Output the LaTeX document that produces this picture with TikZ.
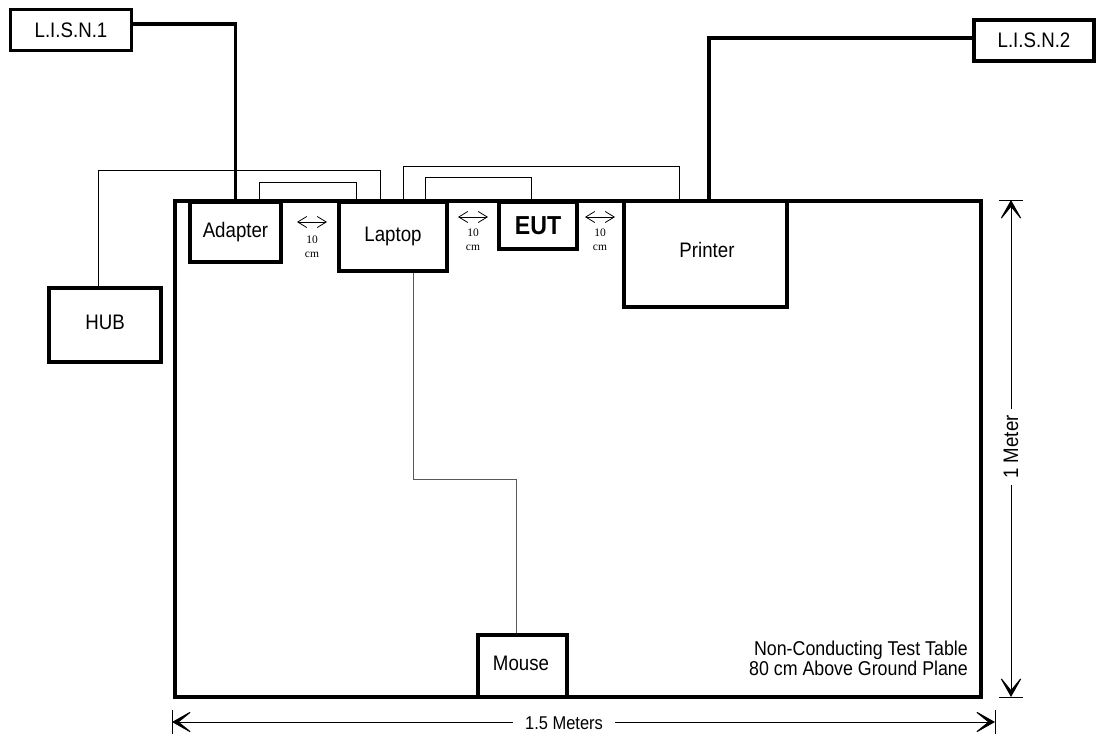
\documentclass[tikz,border=0pt]{standalone}
\usepackage{fontspec}
\setmainfont{Liberation Sans}
\newfontfamily\serifsmall{Liberation Serif}
\usetikzlibrary{arrows.meta}
\newcommand\cond[1]{\scalebox{0.89}[1]{#1}}
\begin{document}
\begin{tikzpicture}[x=1pt,y=-1pt,
  box/.style={draw, line width=3.5pt, inner sep=0pt, font=\fontsize{21}{24}\selectfont},
  label/.style={font=\fontsize{21}{24}\selectfont, inner sep=0pt},
  cable/.style={line width=1pt},
  mousecable/.style={line width=1pt, draw=black!65},
  power/.style={line width=3.5pt},
  gap/.style={line width=0.8pt, {Straight Barb[length=9pt,width=11pt]}-{Straight Barb[length=9pt,width=11pt]}},
  gaptext/.style={font=\serifsmall\fontsize{11.5}{13}\selectfont, inner sep=0pt, anchor=base},
  dimline/.style={line width=1pt, -{Stealth[length=23pt,width=26pt,inset=16pt]}},
  dimlabel/.style={fill=white, inner ysep=2pt},
  tick/.style={line width=1pt},
  note/.style={font=\fontsize{20}{22}\selectfont, inner sep=0pt, anchor=base east},
]
\useasboundingbox (0,0) rectangle (1096,736);

% table
\node[draw, line width=3.5pt, minimum width=806pt, minimum height=496pt, inner sep=0pt] (table) at (578,449) {};

% boxes
\node[box, minimum width=121pt, minimum height=41pt] (lisn1) at (71,30) {\cond{L.I.S.N.1}};
\node[box, minimum width=120pt, minimum height=41pt] (lisn2) at (1034,40.5) {\cond{L.I.S.N.2}};
\node[box, minimum width=91pt, minimum height=60pt] (adapter) at (235.5,232) {\cond{Adapter}};
\node[box, minimum width=108pt, minimum height=69pt] (laptop) at (393,236.5) {\cond{Laptop}};
\node[box, minimum width=78pt, minimum height=47pt, font=\bfseries\fontsize{26}{28}\selectfont] (eut) at (538,225.5) {\cond{EUT}};
\node[box, minimum width=163pt, minimum height=106pt] (printer) at (705.5,254) {};
\node[label] (printertext) at (707,250) {\cond{Printer}};
\node[box, minimum width=112pt, minimum height=74pt] (hub) at (105,325) {};
\node[label] (hubtext) at (105,322) {\cond{HUB}};
\node[box, minimum width=89pt, minimum height=62pt] (mouse) at (522.5,666) {};
\node[label] (mousetext) at (521,663) {\cond{Mouse}};

% power cables
\draw[power] ([yshift=6pt]lisn1.east) -| (adapter.north);
\draw[power] ([xshift=3.5pt]printer.north) |- ([yshift=2.5pt]lisn2.west);

% signal cables
\draw[cable] ([xshift=-7pt]hub.north) -- ++(0,-116) -| ([xshift=-13pt]laptop.north);
\draw[cable] ([xshift=23.5pt]adapter.north) -- ++(0,-18) -| ([xshift=-37pt]laptop.north);
\draw[cable] ([xshift=10pt]laptop.north) -- ++(0,-34) -| ([xshift=-26.5pt]printer.north);
\draw[cable] ([xshift=32pt]laptop.north) -- ++(0,-23) -| ([xshift=-7pt]eut.north);
\draw[mousecable] ([xshift=20pt]laptop.south) -- ++(0,207) -| ([xshift=-6.5pt]mouse.north);

% 10 cm spacing marks
\coordinate (g1a) at (297,222); \coordinate (g1b) at (327,222);
\draw[gap] (g1a) -- (g1b);
\node[gaptext] (g1t) at (312,243) {10};
\node[gaptext] (g1c) at (312,257) {cm};
\coordinate (g2a) at (458,217); \coordinate (g2b) at (488,217);
\draw[gap] (g2a) -- (g2b);
\node[gaptext] (g2t) at (473,236) {10};
\node[gaptext] (g2c) at (473,250) {cm};
\coordinate (g3a) at (585,217); \coordinate (g3b) at (615,217);
\draw[gap] (g3a) -- (g3b);
\node[gaptext] (g3t) at (600,236) {10};
\node[gaptext] (g3c) at (600,250) {cm};

% table note
\node[note] (note1) at (968,655) {\cond{Non-Conducting Test Table}};
\node[note] (note2) at (968,675) {\cond{80 cm Above Ground Plane}};

% horizontal dimension
\coordinate (hl) at (172,722); \coordinate (hr) at (995,722);
\node[dimlabel, font=\fontsize{18.5}{21}\selectfont, inner xsep=12pt] (hlab) at (564,723) {\cond{1.5 Meters}};
\draw[dimline] (hlab.west |- hl) -- (hl);
\draw[dimline] (hlab.east |- hr) -- (hr);
\draw[tick] (172,710) -- (172,734);
\draw[tick] (995,710) -- (995,734);

% vertical dimension
\coordinate (vt) at (1011,200); \coordinate (vb) at (1011,697);
\node[dimlabel, font=\fontsize{21}{24}\selectfont, inner xsep=6pt, rotate=90] (vlab) at (1011,447) {\cond{1 Meter}};
\draw[dimline] (vlab.east) -- (vt);
\draw[dimline] (vlab.west) -- (vb);
\draw[tick] (999,200) -- (1023,200);
\draw[tick] (999,697) -- (1023,697);
\end{tikzpicture}
\end{document}
